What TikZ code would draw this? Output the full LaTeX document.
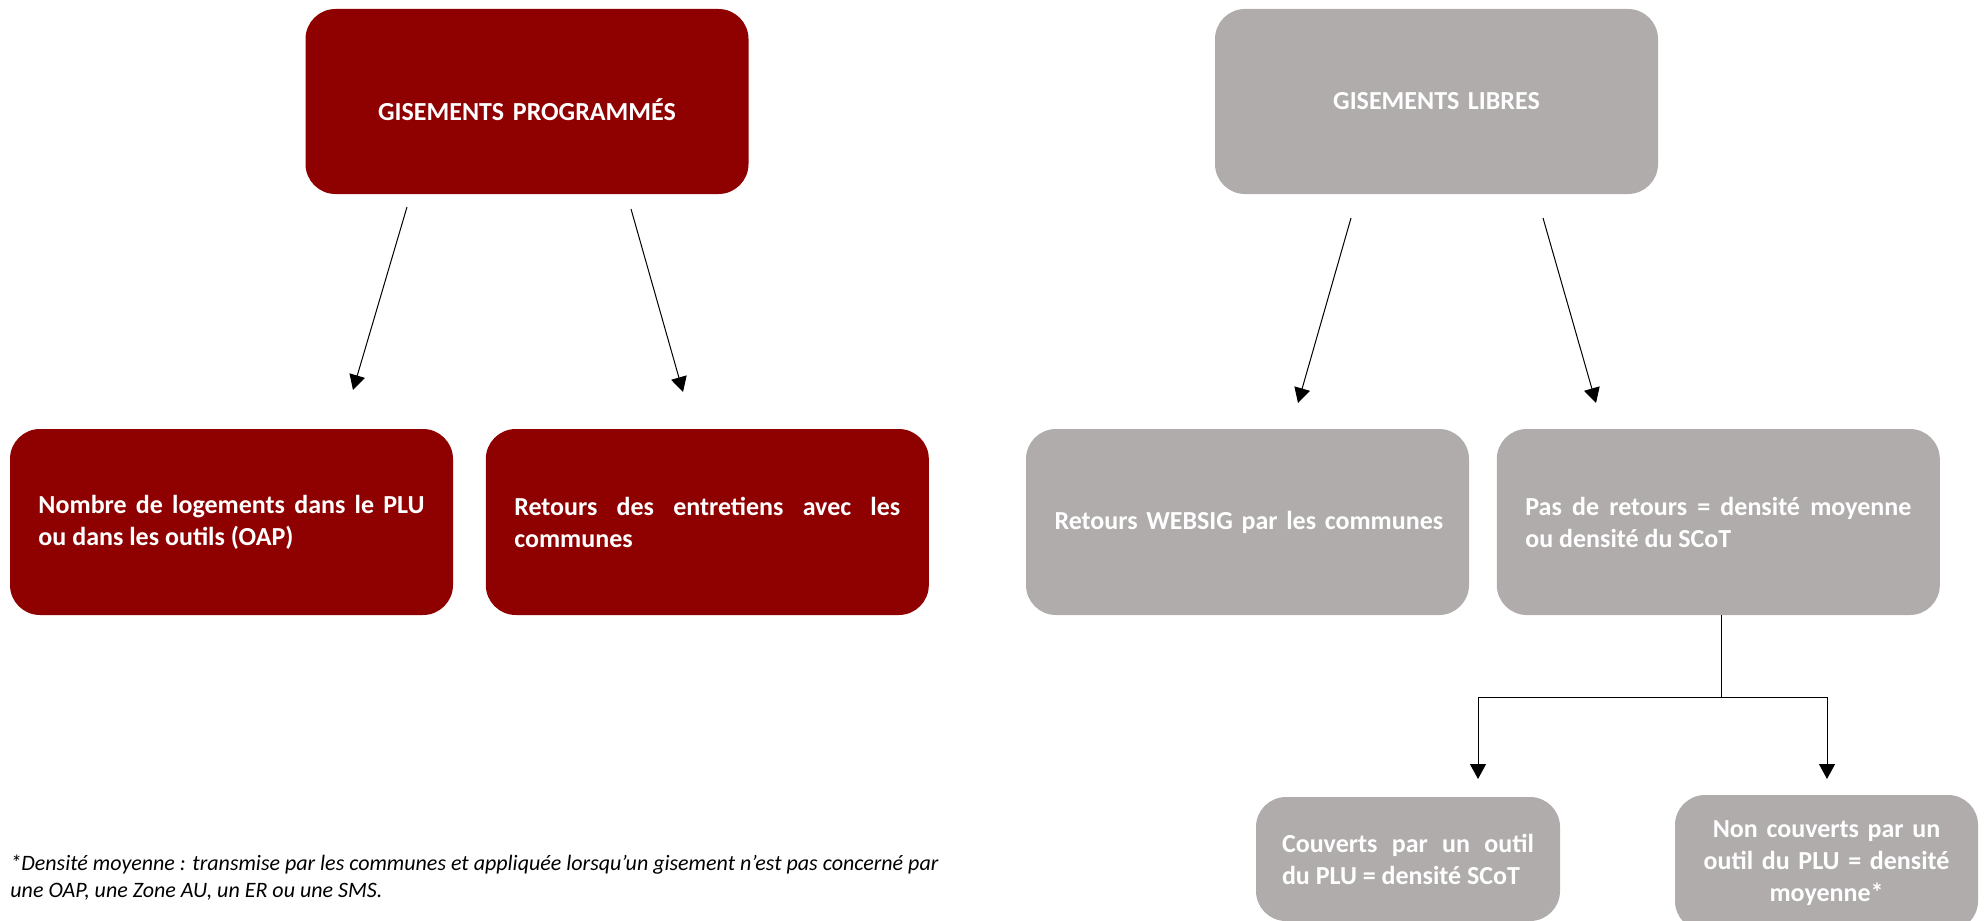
\documentclass[tikz,border=0pt]{standalone}
\usepackage{fontspec}
\setmainfont{Carlito}
\usepackage{tikz}
\usetikzlibrary{arrows.meta,positioning}
\definecolor{gisred}{RGB}{143,0,0}
\definecolor{gisgrey}{RGB}{175,172,171}
\hyphenpenalty=10000
\exhyphenpenalty=10000

\begin{document}
\begin{tikzpicture}[x=0.5pt, y=-0.5pt, node distance=16pt,
    every node/.style={font=\fontsize{13}{16}\selectfont\bfseries},
    box/.style={rounded corners=15pt, text=white, inner xsep=14.25pt, inner ysep=0pt,
      text width=193pt, minimum height=93pt, align=justify},
    redbox/.style={box, fill=gisred},
    greybox/.style={box, fill=gisgrey},
    arr/.style={-{Triangle[length=7.5pt,width=8pt]}, line width=0.5pt}]
  \useasboundingbox (0,0) rectangle (1984,920);
  % top row
  \node[redbox, align=center, minimum height=92.5pt] (gp) at (527,101.5) {\raisebox{-4pt}[\height][\depth]{GISEMENTS PROGRAMMÉS}};
  \node[greybox, align=center, minimum height=92.5pt] (gl) at (1436.5,101.5) {GISEMENTS LIBRES};
  % middle row
  \node[redbox] (nb) at (231.5,522) {Nombre de logements dans le PLU ou dans les outils (OAP)};
  \node[redbox, right=of nb] (ret) {Retours des entretiens avec les communes};
  \node[greybox, align=center] (ws) at (1247.5,522) {\mbox{Retours WEBSIG par les communes}};
  \node[greybox, right=13.5pt of ws] (pr) {Pas de retours = densité moyenne ou densité du SCoT};
  % bottom row
  \node[greybox, inner xsep=13pt, text width=126pt, minimum height=62pt] (cov) at (1408,859) {Couverts par un outil du PLU = densité SCoT};
  \node[greybox, inner xsep=13pt, text width=125.5pt, minimum height=68pt, align=center] (ncov) at (1826.5,863) {Non couverts par un\\outil du PLU = densité\\moyenne*};
  \node[anchor=north west, inner sep=0pt, text width=464pt, align=justify,
    font=\fontsize{11}{13.5}\selectfont\itshape] (note) at (10,854)
    {*Densité moyenne : transmise par les communes et appliquée lorsqu’un gisement n’est pas concerné par une OAP, une Zone AU, un ER ou une SMS.};
  % connector ends
  \coordinate (p1s) at (407,207); \coordinate (p1e) at (353,390);
  \coordinate (p2s) at (631,209); \coordinate (p2e) at (683,392);
  \coordinate (l1s) at (1351,218); \coordinate (l1e) at (1298,403);
  \coordinate (l2s) at (1543,218); \coordinate (l2e) at (1596,403);
  \coordinate (split) at (1721,697);
  \coordinate (covin) at (1478,779); \coordinate (ncovin) at (1827,779);
  \draw[arr] (p1s) -- (p1e); \draw[arr] (p2s) -- (p2e);
  \draw[arr] (l1s) -- (l1e); \draw[arr] (l2s) -- (l2e);
  \draw[line width=0.5pt] (pr.south -| split) -- (split);
  \draw[arr] (split) -| (covin); \draw[arr] (split) -| (ncovin);
\end{tikzpicture}
\end{document}
